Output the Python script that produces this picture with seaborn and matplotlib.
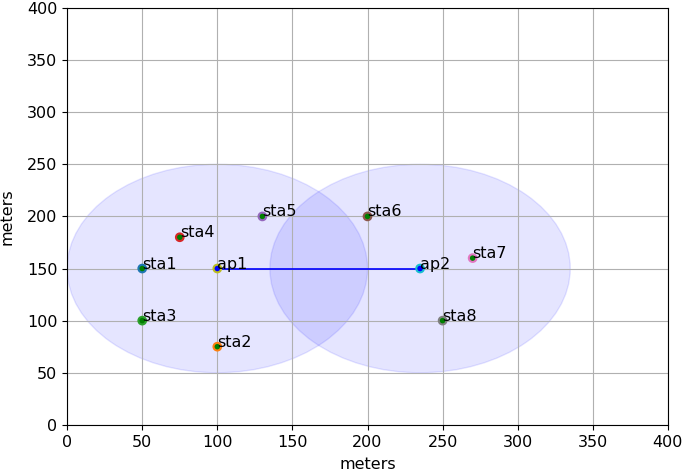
import pandas as pd
import matplotlib
matplotlib.use("Agg")
import matplotlib.pyplot as plt
import seaborn as sns
from matplotlib.patches import Circle

# Node positions (meters)
names = ["sta1", "sta2", "sta3", "sta4", "sta5", "sta6", "sta7", "sta8", "ap1", "ap2"]
xs = [50, 100, 50, 75, 130, 200, 270, 250, 100, 235]
ys = [150, 75, 100, 180, 200, 200, 160, 100, 150, 150]
kinds = ["station"] * 8 + ["ap"] * 2
ap_range = 100

df = pd.DataFrame({"name": names, "x": xs, "y": ys, "kind": kinds})
edge_colors = ["C%d" % i for i in range(len(names))]

plt.rcParams["font.size"] = 11.5
fig, ax = plt.subplots(figsize=(6.85, 4.71), dpi=100)
fig.subplots_adjust(left=0.098, right=0.975, top=0.983, bottom=0.098)

# Coverage ranges of the access points
for _, r in df[df.kind == "ap"].iterrows():
    ax.add_patch(Circle((r.x, r.y), ap_range, color="blue", alpha=0.1))

# Link between the two APs
aps = df[df.kind == "ap"]
sns.lineplot(data=aps, x="x", y="y", color="blue", linewidth=1.2, ax=ax,
             estimator=None, sort=False)

# Nodes
face = df.kind.map({"station": "green", "ap": "blue"})
sns.scatterplot(data=df, x="x", y="y", c=face, edgecolor=edge_colors,
                linewidth=1.5, s=30, ax=ax, zorder=3)

for _, r in df.iterrows():
    ax.text(r.x, r.y, r["name"], fontsize=11.5)

ax.set_xlim(0, 400)
ax.set_ylim(0, 400)
ax.set_xlabel("meters", labelpad=5)
ax.set_ylabel("meters", labelpad=9)
ax.grid(True)

plt.savefig("out.png")
